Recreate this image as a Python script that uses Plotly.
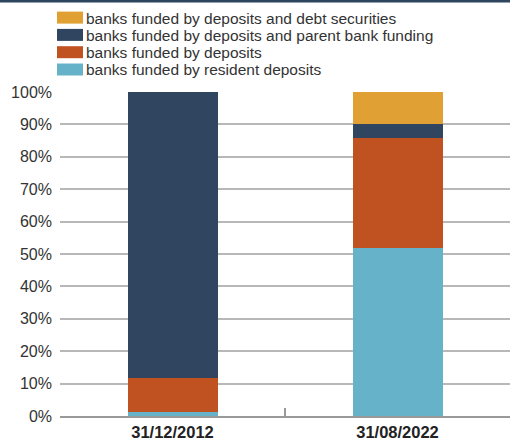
import plotly.graph_objects as go

# Funding structure of banks (share of total, %)
dates = ["31/12/2012", "31/08/2022"]
series_names = [
    "banks funded by resident deposits",
    "banks funded by deposits",
    "banks funded by deposits and parent bank funding",
    "banks funded by deposits and debt securities",
]
resident_deposits = [1.3, 51.7]
deposits = [10.4, 34.1]
parent_funding = [88.3, 4.4]
debt_securities = [0.0, 9.8]
series_values = [resident_deposits, deposits, parent_funding, debt_securities]
colors = ["#65B2C9", "#C05221", "#2F4560", "#E1A034"]

y_ticks = list(range(0, 101, 10))
y_tick_labels = [f"{v}%" for v in y_ticks]

W, H = 510, 443
L, R, T, B = 60, 0, 92, 27
PW, PH = W - L - R, H - T - B


def px_x(x):
    return (x - L) / PW


def px_y(y):
    return (H - B - y) / PH


fig = go.Figure()
for name, vals, col in zip(series_names, series_values, colors):
    fig.add_trace(go.Bar(x=dates, y=vals, name=name, marker_color=col,
                         marker_line_width=0, showlegend=False))

shapes = [
    # dark rule across the top
    dict(type="rect", xref="paper", yref="paper", x0=px_x(0), x1=px_x(W),
         y0=px_y(2.5), y1=px_y(-1), fillcolor="#2E4560", line_width=0),
]
annotations = []
row_centers = [17.6, 34.9, 52.2, 69.5]
legend_order = list(reversed(range(len(series_names))))
for rc, i in zip(row_centers, legend_order):
    shapes.append(dict(type="rect", xref="paper", yref="paper",
                       x0=px_x(57), x1=px_x(83), y0=px_y(rc + 6), y1=px_y(rc - 6),
                       fillcolor=colors[i], line_width=0))
    annotations.append(dict(xref="paper", yref="paper", x=px_x(84.5), y=px_y(rc + 0.5),
                            text=series_names[i], showarrow=False, xanchor="left",
                            yanchor="middle", borderpad=0,
                            font=dict(family="Liberation Sans, Arial", size=15.5,
                                      color="#333333")))

fig.update_layout(
    width=W, height=H,
    margin=dict(l=L, r=R, t=T, b=B),
    paper_bgcolor="white", plot_bgcolor="white",
    barmode="stack", bargap=0.6,
    shapes=shapes, annotations=annotations,
    font=dict(family="Liberation Sans, Arial", size=16, color="#333333"),
)
fig.update_xaxes(
    type="category", showgrid=False, showline=True, linecolor="#999999", linewidth=1.5,
    ticks="inside", tickson="boundaries", ticklen=8, tickcolor="#999999", tickwidth=1.5,
    tickfont=dict(family="Liberation Sans, Arial", size=16.5, color="#222222",
                  weight="bold"),
    fixedrange=True,
)
fig.update_yaxes(
    range=[0, 100], tickvals=y_ticks, ticktext=y_tick_labels,
    showgrid=True, gridcolor="#B8B8B8", gridwidth=1.5, zeroline=False,
    showline=False, ticks="", ticklabelstandoff=7,
    tickfont=dict(family="Liberation Sans, Arial", size=16, color="#333333"),
    fixedrange=True,
)

fig.write_html("out.html")
